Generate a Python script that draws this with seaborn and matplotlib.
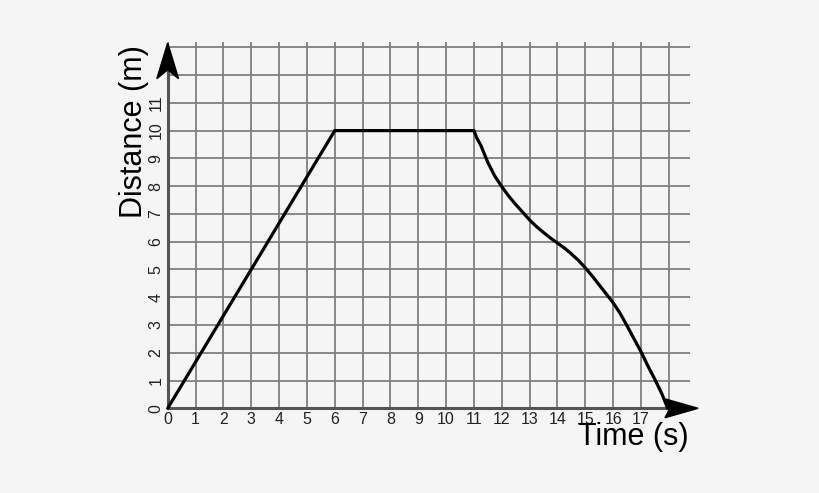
import matplotlib
matplotlib.use("Agg")
import matplotlib.pyplot as plt
from matplotlib.patches import Polygon
import seaborn as sns
import pandas as pd

# ---- data ----
time_s = [0, 6, 11, 11.1, 11.25, 11.5, 11.75, 12, 12.25, 12.5, 12.75, 13, 13.25, 13.5,
          13.75, 14, 14.25, 14.5, 14.75, 15, 15.25, 15.5, 15.75, 16, 16.25, 16.5,
          16.75, 17, 17.25, 17.5, 17.75, 17.96]
distance_m = [0, 10, 10, 9.74, 9.46, 8.85, 8.36, 7.98, 7.64, 7.34, 7.06, 6.78, 6.54, 6.33,
              6.13, 5.95, 5.77, 5.56, 5.33, 5.06, 4.76, 4.44, 4.12, 3.8, 3.42, 2.97,
              2.5, 2.04, 1.52, 1.04, 0.52, 0]
x_tick_labels = [str(i) for i in range(18)]
y_tick_labels = [str(i) for i in range(12)]
x_grid = list(range(19))
y_grid = list(range(14))

df = pd.DataFrame({"Time": time_s, "Distance": distance_m})

sns.set_theme(style="white")
plt.rcParams["font.family"] = ["Liberation Sans", "DejaVu Sans"]

BG = "#f5f5f5"
GRID = "#7f7f7f"
AXIS = "#555555"

fig = plt.figure(figsize=(8.2, 4.93), dpi=100, facecolor=BG)
ax = fig.add_axes([167.7 / 820, 84.7 / 493, 522.3 / 820, 366.0 / 493])
ax.set_facecolor(BG)

sns.lineplot(data=df, x="Time", y="Distance", sort=False, estimator=None,
             color="black", linewidth=2.3, ax=ax, zorder=5, clip_on=False)

ax.set_xlim(0, 18.76)
ax.set_ylim(0, 13.18)
ax.set_xticks(x_grid)
ax.set_yticks(y_grid)
ax.set_xticklabels(x_tick_labels + [""] * (len(x_grid) - len(x_tick_labels)))
ax.set_yticklabels(y_tick_labels + [""] * (len(y_grid) - len(y_tick_labels)))
ax.grid(True, color=GRID, linewidth=1.3)
ax.set_axisbelow(True)
for s in ax.spines.values():
    s.set_visible(False)
ax.tick_params(axis="x", length=0, pad=2.5, labelsize=11.5, colors="#222222")
ax.tick_params(axis="y", length=0, pad=3, labelsize=11.5, colors="#222222")
for lab in ax.get_yticklabels():
    lab.set_rotation(90)
    lab.set_va("center")
    lab.set_ha("right")
ax.set_xlabel("")
ax.set_ylabel("")

# axis lines with arrowheads
ax.plot([0, 18.5], [0, 0], color=AXIS, linewidth=2.2, clip_on=False, zorder=3)
ax.plot([0, 0], [0, 12.6], color=AXIS, linewidth=2.2, clip_on=False, zorder=3)
ax.add_patch(Polygon([(19.05, 0), (17.86, 0.34), (18.04, 0), (17.86, -0.34)],
                     closed=True, color="black", clip_on=False, zorder=6))
ax.add_patch(Polygon([(0, 13.16), (-0.39, 11.87), (0, 12.19), (0.39, 11.87)],
                     closed=True, color="black", clip_on=False, zorder=6))

fig.text(134 / 820, 1 - 131.5 / 493, "Distance (m)", rotation=90, ha="center",
         va="center", fontsize=22, color="black")
fig.text(633 / 820, 1 - 437.5 / 493, "Time (s)", ha="center", va="center",
         fontsize=22, color="black")

fig.savefig("out.png", dpi=100, facecolor=BG)
